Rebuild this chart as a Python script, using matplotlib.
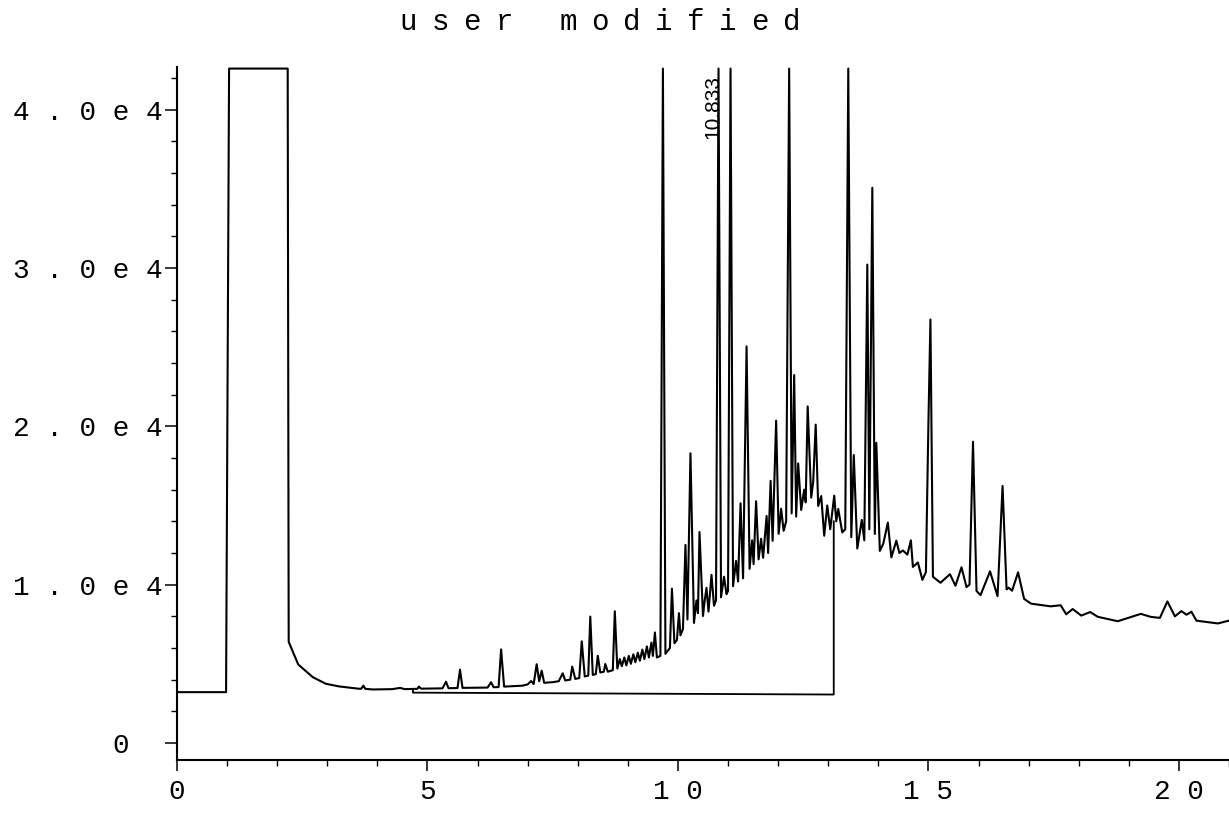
import matplotlib
matplotlib.use("Agg")
import matplotlib.pyplot as plt
from matplotlib.ticker import MultipleLocator

# retention time (min) and abundance
time_min = [0.00, 0.98, 1.04, 2.21, 2.23, 2.42, 2.71, 2.97, 3.23, 3.63, 3.68, 3.72, 3.76, 3.91,
            4.30, 4.45, 4.55, 4.71, 4.80, 4.83, 4.87, 5.30, 5.37, 5.42, 5.60, 5.65, 5.70, 6.20,
            6.27, 6.32, 6.42, 6.47, 6.53, 6.90, 7.00, 7.07, 7.12, 7.18, 7.23, 7.28, 7.33, 7.50,
            7.62, 7.70, 7.75, 7.85, 7.89, 7.95, 8.03, 8.08, 8.14, 8.21, 8.25, 8.30, 8.36, 8.40,
            8.45, 8.52, 8.55, 8.60, 8.70, 8.74, 8.79, 8.84, 8.88, 8.93, 8.97, 9.02, 9.06, 9.11,
            9.15, 9.20, 9.24, 9.29, 9.33, 9.38, 9.42, 9.47, 9.50, 9.54, 9.58, 9.65, 9.70, 9.75,
            9.84, 9.88, 9.93, 9.98, 10.02, 10.05, 10.10, 10.15, 10.19, 10.25, 10.32, 10.37, 10.40,
            10.43, 10.50, 10.53, 10.57, 10.61, 10.67, 10.72, 10.76, 10.81, 10.86, 10.92, 10.97,
            11.00, 11.05, 11.10, 11.16, 11.20, 11.25, 11.30, 11.37, 11.43, 11.48, 11.51, 11.56,
            11.61, 11.66, 11.70, 11.77, 11.80, 11.85, 11.89, 11.96, 12.01, 12.06, 12.11, 12.16,
            12.22, 12.27, 12.32, 12.36, 12.40, 12.46, 12.52, 12.55, 12.59, 12.66, 12.70, 12.75,
            12.80, 12.86, 12.92, 12.98, 13.04, 13.12, 13.16, 13.20, 13.28, 13.34, 13.40, 13.46,
            13.51, 13.58, 13.67, 13.72, 13.78, 13.82, 13.88, 13.93, 13.96, 14.03, 14.10, 14.19,
            14.26, 14.36, 14.42, 14.49, 14.58, 14.65, 14.69, 14.79, 14.88, 14.95, 15.00, 15.04,
            15.09, 15.24, 15.43, 15.54, 15.66, 15.76, 15.82, 15.89, 15.96, 16.04, 16.23, 16.38,
            16.48, 16.56, 16.60, 16.67, 16.79, 16.91, 17.05, 17.44, 17.64, 17.75, 17.88, 18.05,
            18.23, 18.38, 18.78, 19.24, 19.44, 19.62, 19.77, 19.92, 20.05, 20.15, 20.25, 20.35,
            20.78, 21.08]
abundance = [3210, 3210, 42600, 42600, 6390, 4960, 4160, 3740, 3575, 3425, 3430, 3620, 3420, 3380,
             3400, 3480, 3400, 3410, 3420, 3560, 3430, 3450, 3870, 3460, 3470, 4630, 3480, 3500,
             3840, 3520, 3530, 5905, 3560, 3620, 3700, 3915, 3720, 4975, 3900, 4566, 3800, 3840,
             3900, 4400, 3950, 4000, 4825, 4050, 4100, 6423, 4200, 4250, 7983, 4300, 4350, 5507,
             4450, 4500, 4989, 4500, 4600, 8318, 4700, 5300, 4850, 5400, 4900, 5500, 5000, 5600,
             5100, 5700, 5200, 5900, 5300, 6100, 5400, 6340, 5500, 6980, 5400, 5500, 42600, 5630,
             6000, 9750, 6300, 6510, 8200, 6800, 7200, 12510, 7800, 18300, 7580, 9000, 8200,
             13330, 8020, 8900, 9800, 8300, 10620, 8670, 9000, 42600, 9200, 10500, 9400,
             9600, 42600, 9900, 11500, 10200, 15140, 10400, 25050, 11000, 12800, 11300, 15270,
             11600, 12900, 11700, 14340, 12000, 16560, 12770, 20360, 13210, 14800, 13400, 14000,
             42600, 14500, 23240, 14300, 17660, 14720, 16000, 15200, 21260, 15500, 16500, 20110,
             14970, 15600, 13090, 15000, 13500, 15620, 14000, 14780, 13300, 13500, 42600, 13000,
             18190, 12285, 14090, 12800, 30220, 13500, 35070, 13200, 18960, 12130, 12600, 13920,
             11720, 12780, 12000, 12160, 11900, 12800, 11120, 11400, 10300, 10800, 20230, 26750,
             10500, 10120, 10660, 9930, 11100, 9850, 10000, 19030, 9600, 9340, 10840, 9270,
             16235, 9700, 9810, 9620, 10780, 9100, 8800, 8630, 8700, 8130, 8460, 8047,
             8270, 7970, 7690, 8155, 7965, 7900, 8940, 8000, 8330, 8100, 8290, 7725,
             7550, 7795]

# integration baseline drawn under the hump
base_time = [4.71, 4.71, 13.11, 13.11]
base_abund = [3410, 3180, 3060, 14000]

peak_label_time = 10.70
peak_label_abund = 40200
peak_label = "10.833"

y_ticks = [0, 10000, 20000, 30000, 40000]
y_ticklabels = ["0  ", "1 . 0 e 4", "2 . 0 e 4", "3 . 0 e 4", "4 . 0 e 4"]
x_ticks = [0, 5, 10, 15, 20]
x_ticklabels = ["0", "5", "1 0", "1 5", "2 0"]
title = "user modified"

fig = plt.figure(figsize=(12.29, 8.25), dpi=100)
ax = fig.add_axes([0.144, 0.0788, 0.856, 0.840])

ax.plot(time_min, abundance, color="black", lw=1.5)
ax.plot(base_time, base_abund, color="black", lw=1.3)
ax.text(peak_label_time, peak_label_abund, peak_label, rotation=90, ha="center", va="center",
        fontsize=15, family="Liberation Sans")

ax.set_xlim(0, 21.0)
ax.set_ylim(-1075, 42700)

for s in ["top", "right"]:
    ax.spines[s].set_visible(False)
ax.spines["left"].set_linewidth(1.5)
ax.spines["bottom"].set_linewidth(1.5)

ax.set_yticks(y_ticks)
ax.set_yticklabels(y_ticklabels, family="Liberation Mono", fontsize=20)
ax.set_xticks(x_ticks)
ax.set_xticklabels(x_ticklabels, family="Liberation Mono", fontsize=20)
ax.yaxis.set_minor_locator(MultipleLocator(2000))
ax.xaxis.set_minor_locator(MultipleLocator(1))
ax.tick_params(axis="y", which="major", length=9, width=1.1, pad=1)
ax.tick_params(axis="y", which="minor", length=4.5, width=1.0)
ax.tick_params(axis="x", which="major", length=8, width=1.1, pad=6)
ax.tick_params(axis="x", which="minor", length=4, width=1.0)

# title set letter by letter to mimic the wide plotter font
pitch = 32 / 1229
x0 = 600 / 1229 - pitch * (len(title) - 1) / 2
for i, ch in enumerate(title):
    fig.text(x0 + i * pitch, 1 - 22 / 825, ch, ha="center", va="center",
             fontsize=21, family="Liberation Mono")

fig.savefig("out.png", dpi=100)
